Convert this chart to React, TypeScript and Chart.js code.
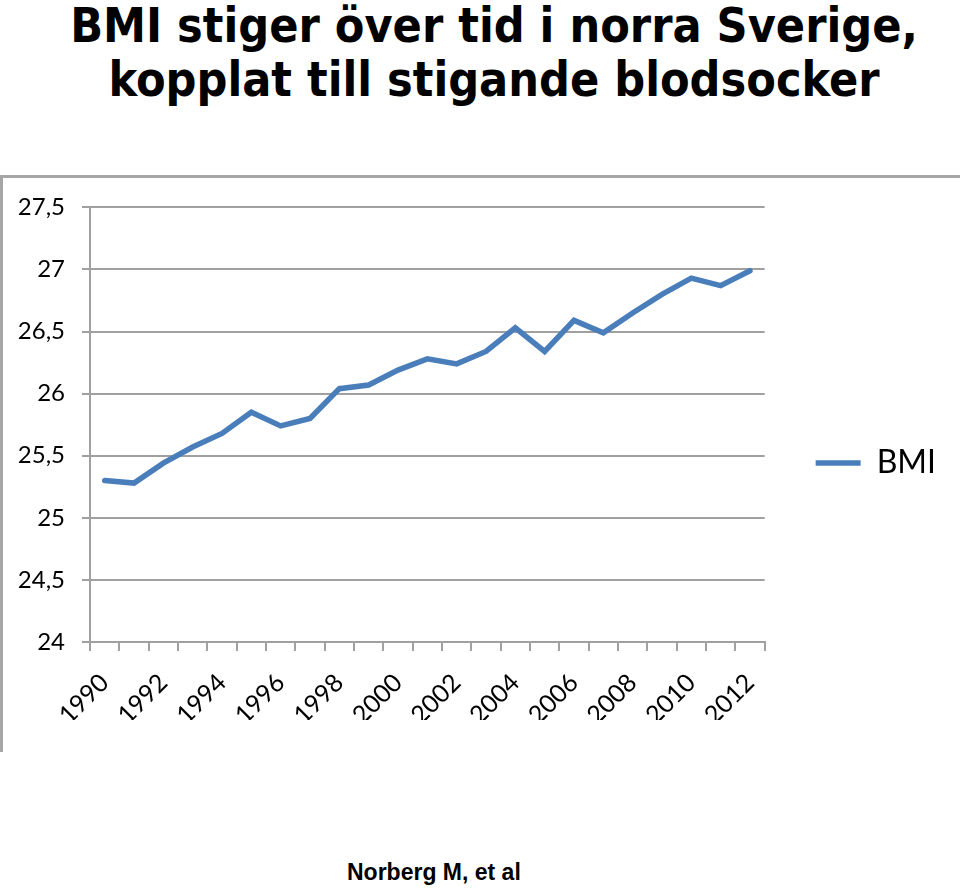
import React, { useEffect, useRef } from "react";
import { Chart, registerables } from "chart.js";

Chart.register(...registerables);

const years = [
  "1990", "1991", "1992", "1993", "1994", "1995", "1996", "1997", "1998", "1999",
  "2000", "2001", "2002", "2003", "2004", "2005", "2006", "2007", "2008", "2009",
  "2010", "2011", "2012",
];
const bmiValues = [
  25.3, 25.28, 25.44, 25.57, 25.68, 25.85, 25.74, 25.8, 26.04, 26.07,
  26.19, 26.28, 26.24, 26.34, 26.53, 26.34, 26.59, 26.49, 26.65, 26.8,
  26.93, 26.87, 26.99,
];
const seriesName = "BMI";
const yMin = 24;
const yMax = 27.5;
const yStep = 0.5;

const GRID = "#A0A0A0";
const LINE = "#4A7EBB";

export default function App() {
  const ref = useRef<HTMLCanvasElement | null>(null);

  useEffect(() => {
    if (!ref.current) return;
    const chart = new Chart(ref.current, {
      type: "line",
      data: {
        labels: years,
        datasets: [
          {
            label: seriesName,
            data: bmiValues,
            borderColor: LINE,
            backgroundColor: LINE,
            borderWidth: 5.5,
            pointRadius: 0,
            pointHoverRadius: 0,
            tension: 0,
            borderCapStyle: "round",
            fill: false,
          },
        ],
      },
      options: {
        responsive: false,
        maintainAspectRatio: false,
        animation: false,
        events: [],
        layout: { padding: { top: 30, left: 0, right: 14, bottom: 40 } },
        plugins: {
          tooltip: { enabled: false },
          title: { display: false },
          legend: {
            display: true,
            position: "right",
            labels: {
              usePointStyle: true,
              pointStyle: "line",
              pointStyleWidth: 45,
              padding: 51,
              color: "#000000",
              font: { family: "Lato", size: 32 },
            },
          },
        },
        scales: {
          x: {
            type: "category",
            offset: true,
            afterFit: (scale: any) => {
              scale.height = 78;
            },
            grid: {
              display: true,
              offset: true,
              drawOnChartArea: false,
              drawTicks: true,
              tickLength: 9,
              color: GRID,
              lineWidth: 2,
            },
            border: { display: true, color: GRID, width: 2 },
            ticks: {
              autoSkip: false,
              maxRotation: 45,
              minRotation: 45,
              padding: 17,
              color: "#000000",
              font: { family: "Lato", size: 25 },
              callback: (_v: any, i: number) => (i % 2 === 0 ? years[i] : ""),
            },
          },
          y: {
            min: yMin,
            max: yMax,
            afterFit: (scale: any) => {
              scale.width = 90;
            },
            grid: {
              display: true,
              drawTicks: true,
              tickLength: 8,
              color: GRID,
              lineWidth: 2,
            },
            border: { display: true, color: GRID, width: 2 },
            ticks: {
              stepSize: yStep,
              padding: 17,
              color: "#000000",
              font: { family: "Lato", size: 24 },
              callback: (v: any) => String(v).replace(".", ","),
            },
          },
        },
      },
    });
    return () => chart.destroy();
  }, []);

  return (
    <div style={{ position: "absolute", left: 0, top: 0, width: 960, height: 889, background: "#fff", overflow: "hidden" }}>
      <div
        style={{
          position: "absolute",
          left: 28,
          top: -2,
          width: 932,
          textAlign: "center",
          fontFamily: "'DejaVu Sans Condensed', 'DejaVu Sans', sans-serif",
          fontWeight: "bold",
          fontSize: 48,
          lineHeight: "54px",
          color: "#000",
          whiteSpace: "nowrap",
        }}
      >
        <div>BMI stiger över tid i norra Sverige,</div>
        <div>kopplat till stigande blodsocker</div>
      </div>
      <div
        style={{
          position: "absolute",
          left: 0,
          top: 175,
          width: 957,
          height: 574,
          borderTop: "3px solid #A6A6A6",
          borderLeft: "3px solid #A6A6A6",
        }}
      />
      <canvas
        ref={ref}
        width={960}
        height={584}
        style={{ position: "absolute", left: 0, top: 176, width: 960, height: 584 }}
      />
      <div
        style={{
          position: "absolute",
          left: 347,
          top: 861,
          fontFamily: "'Liberation Sans', Arial, sans-serif",
          fontWeight: "bold",
          fontSize: 23,
          lineHeight: "23px",
          color: "#000",
          whiteSpace: "nowrap",
        }}
      >
        Norberg M, et al
      </div>
    </div>
  );
}
